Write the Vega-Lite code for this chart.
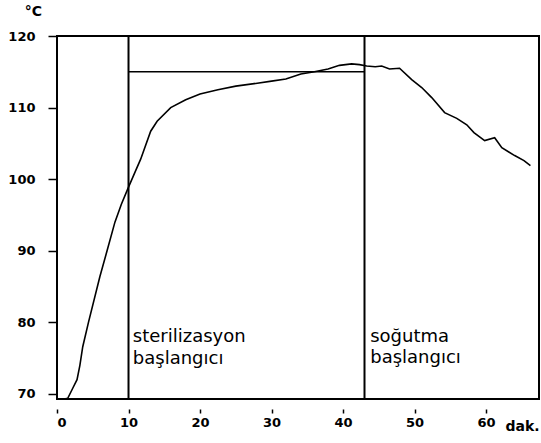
{
  "$schema": "https://vega.github.io/schema/vega-lite/v6.json",
  "width": 482,
  "height": 363,
  "autosize": {"type": "none"},
  "padding": {"left": 57, "top": 36, "right": 2, "bottom": 44},
  "background": "white",
  "config": {
    "view": {"stroke": "black", "strokeWidth": 2},
    "font": "DejaVu Sans"
  },
  "datasets": {
    "curve": [
      {"t": 1.0, "temp": 69.3}, {"t": 1.5, "temp": 69.4}, {"t": 2.2, "temp": 70.8},
      {"t": 2.8, "temp": 72.0}, {"t": 3.2, "temp": 74.0}, {"t": 3.6, "temp": 76.6},
      {"t": 4.4, "temp": 80.0}, {"t": 6.0, "temp": 86.4}, {"t": 7.0, "temp": 90.0},
      {"t": 8.1, "temp": 94.0}, {"t": 9.0, "temp": 96.5}, {"t": 10.0, "temp": 98.9},
      {"t": 11.0, "temp": 101.2}, {"t": 11.7, "temp": 102.8}, {"t": 13.1, "temp": 106.7},
      {"t": 14.0, "temp": 108.1}, {"t": 15.9, "temp": 110.0}, {"t": 18.0, "temp": 111.1},
      {"t": 20.0, "temp": 111.9}, {"t": 22.5, "temp": 112.5}, {"t": 25.0, "temp": 113.0},
      {"t": 28.0, "temp": 113.4}, {"t": 30.0, "temp": 113.7}, {"t": 32.0, "temp": 114.0},
      {"t": 34.1, "temp": 114.7}, {"t": 36.0, "temp": 115.0}, {"t": 37.9, "temp": 115.4},
      {"t": 39.5, "temp": 115.9}, {"t": 41.2, "temp": 116.1}, {"t": 42.3, "temp": 116.0},
      {"t": 43.3, "temp": 115.8}, {"t": 44.5, "temp": 115.7}, {"t": 45.4, "temp": 115.8},
      {"t": 46.5, "temp": 115.4}, {"t": 47.9, "temp": 115.5}, {"t": 49.6, "temp": 113.9},
      {"t": 51.0, "temp": 112.8}, {"t": 52.4, "temp": 111.4}, {"t": 54.2, "temp": 109.3},
      {"t": 55.9, "temp": 108.5}, {"t": 57.3, "temp": 107.6}, {"t": 58.3, "temp": 106.5},
      {"t": 59.8, "temp": 105.4}, {"t": 61.2, "temp": 105.8}, {"t": 62.2, "temp": 104.4},
      {"t": 64.0, "temp": 103.3}, {"t": 65.3, "temp": 102.6}, {"t": 66.2, "temp": 101.9}
    ],
    "events": [{"t": 10}, {"t": 43}],
    "hold": [{"t": 10, "t2": 43, "temp": 115}],
    "labels": [
      {"t": 10.6, "temp": 77.2, "label": "sterilizasyon"},
      {"t": 10.6, "temp": 74.2, "label": "başlangıcı"},
      {"t": 43.8, "temp": 77.3, "label": "soğutma"},
      {"t": 43.8, "temp": 74.3, "label": "başlangıcı"}
    ]
  },
  "layer": [
    {
      "data": {"name": "curve"},
      "mark": {"type": "line", "color": "black", "strokeWidth": 1.6, "clip": true},
      "encoding": {
        "x": {
          "field": "t", "type": "quantitative",
          "scale": {"domain": [0, 67.4], "nice": false, "zero": false},
          "axis": {
            "values": [0, 10, 20, 30, 40, 50, 60],
            "domain": false, "grid": false, "offset": 10,
            "tickSize": 4, "tickColor": "black", "tickWidth": 1.5,
            "labelPadding": 3, "labelFontSize": 13, "labelFontWeight": "bold", "labelColor": "black",
            "title": "dak.", "titleX": 448, "titleY": 21, "titleAlign": "left",
            "titleBaseline": "alphabetic", "titleFontSize": 14, "titleFontWeight": "bold", "titleColor": "black"
          }
        },
        "y": {
          "field": "temp", "type": "quantitative",
          "scale": {"domain": [69.3, 120], "nice": false, "zero": false},
          "axis": {
            "values": [70, 80, 90, 100, 110, 120],
            "domain": false, "grid": false,
            "tickSize": 9, "tickColor": "black", "tickWidth": 1.5,
            "labelPadding": 13, "labelFontSize": 13, "labelFontWeight": "bold", "labelColor": "black",
            "title": "°C", "titleAngle": 0, "titleX": -24, "titleY": -21, "titleAlign": "center",
            "titleBaseline": "alphabetic", "titleFontSize": 14, "titleFontWeight": "bold", "titleColor": "black"
          }
        }
      }
    },
    {
      "data": {"name": "events"},
      "mark": {"type": "rule", "color": "black", "strokeWidth": 2},
      "encoding": {"x": {"field": "t", "type": "quantitative"}}
    },
    {
      "data": {"name": "hold"},
      "mark": {"type": "rule", "color": "black", "strokeWidth": 1.6},
      "encoding": {
        "x": {"field": "t", "type": "quantitative"},
        "x2": {"field": "t2"},
        "y": {"field": "temp", "type": "quantitative"}
      }
    },
    {
      "data": {"name": "labels"},
      "mark": {"type": "text", "align": "left", "baseline": "alphabetic", "fontSize": 18, "color": "black"},
      "encoding": {
        "x": {"field": "t", "type": "quantitative"},
        "y": {"field": "temp", "type": "quantitative"},
        "text": {"field": "label"}
      }
    }
  ]
}
